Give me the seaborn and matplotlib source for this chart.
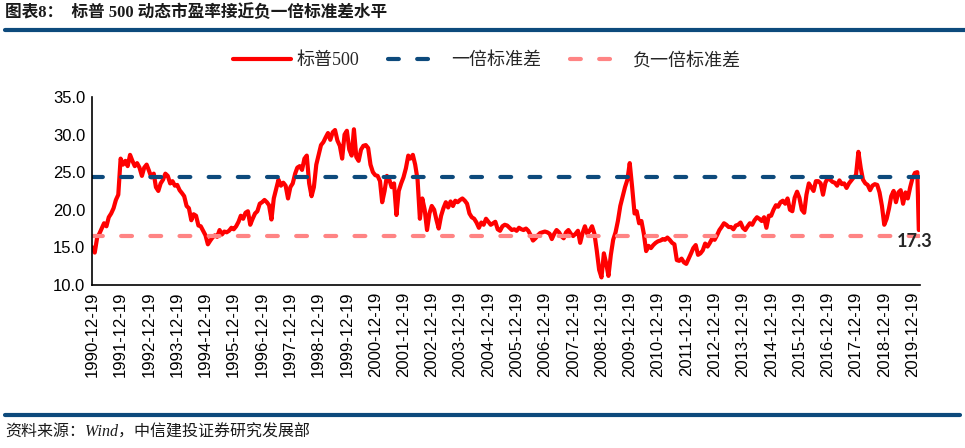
import pandas as pd
import seaborn as sns
import matplotlib.pyplot as plt
from matplotlib.lines import Line2D

# S&P 500 dynamic PE, monthly, starting 1990-12
pe_1990s = [
    15.0,
    14.3, 16.3, 16.8, 17.5, 18.2, 17.8, 19.0, 19.5, 20.2, 21.3, 22.0, 26.8,   # 1991
    26.0, 26.5, 25.8, 27.3, 26.5, 25.8, 26.2, 25.6, 24.5, 25.6, 26.0, 25.2,   # 1992
    24.3, 24.8, 23.0, 22.5, 23.5, 24.0, 24.8, 24.5, 23.5, 23.8, 23.2, 23.3,   # 1993
    22.6, 22.2, 21.8, 20.5, 20.2, 18.6, 19.4, 19.2, 17.9, 17.8, 17.2, 16.6,   # 1994
    15.4, 15.9, 16.3, 16.6, 16.4, 17.3, 16.7, 17.1, 17.0, 17.2, 17.6, 17.4,   # 1995
    17.8, 18.4, 19.2, 18.8, 19.6, 19.8, 18.0, 18.8, 19.5, 19.8, 20.8, 21.0,   # 1996
    21.3, 21.0, 20.6, 18.7, 21.5, 22.8, 24.0, 23.2, 23.6, 23.2, 21.5, 23.0,   # 1997
    23.5, 24.8, 25.6, 25.8, 25.3, 26.8, 27.2, 23.5, 21.8, 23.0, 26.0, 27.3,   # 1998
    28.6, 29.0, 29.6, 30.2, 29.3, 30.3, 30.6, 29.2, 28.5, 26.8, 30.0, 30.5,   # 1999
]
pe_2000s = [
    28.0, 27.2, 30.7, 27.0, 26.5, 28.0, 28.5, 28.6, 28.2, 26.0, 25.0, 24.6,   # 2000
    24.5, 23.8, 21.0, 22.5, 24.5, 24.0, 23.0, 23.5, 19.3, 22.5, 23.5, 24.3,   # 2001
    25.5, 27.2, 26.8, 27.3, 26.0, 24.0, 18.8, 21.5, 20.0, 17.3, 19.5, 20.5,   # 2002
    20.0, 18.6, 17.5, 19.2, 20.2, 21.0, 20.3, 21.1, 20.5, 21.2, 21.0, 21.3,   # 2003
    21.5, 21.2, 20.8, 19.5, 19.0, 18.8, 18.3, 17.6, 18.3, 18.0, 18.8, 18.4,   # 2004
    18.0, 18.2, 18.4, 17.4, 17.2, 17.8, 18.0, 17.9, 17.6, 17.3, 17.4, 17.2,   # 2005
    17.6, 17.4, 17.3, 17.5, 17.2, 16.6, 15.9, 16.2, 16.6, 16.9, 17.0, 17.1,   # 2006
    17.0, 16.8, 16.1, 16.8, 17.3, 17.0, 16.5, 16.2, 17.0, 17.3, 16.8, 16.5,   # 2007
    16.8, 17.2, 15.6, 16.9, 17.8, 16.8, 17.2, 17.8, 16.8, 14.6, 12.0, 11.0,   # 2008
    14.2, 12.8, 11.2, 14.0, 16.0, 17.0, 18.5, 20.5, 21.8, 23.0, 24.0, 26.2,   # 2009
]
pe_2010s = [
    23.0, 19.5, 19.8, 18.2, 18.5, 16.8, 14.5, 15.2, 14.9, 15.3, 15.6, 15.8,   # 2010
    15.9, 16.1, 16.0, 16.3, 16.0, 15.6, 15.4, 13.3, 13.2, 13.5, 13.0, 12.8,   # 2011
    13.5, 14.2, 14.9, 15.3, 14.0, 14.2, 14.6, 15.5, 15.1, 15.6, 16.2, 16.0,   # 2012
    16.6, 17.3, 17.7, 18.2, 18.0, 17.7, 17.7, 17.4, 17.9, 18.0, 18.3, 17.6,   # 2013
    17.3, 17.8, 18.2, 18.0, 18.6, 19.0, 18.8, 18.5, 19.0, 17.6, 19.2, 19.2,   # 2014
    20.0, 20.6, 20.4, 21.0, 21.2, 20.8, 21.5, 20.0, 19.8, 21.6, 22.4, 21.6,   # 2015
    20.0, 19.6, 22.0, 23.5, 23.0, 22.5, 23.8, 23.8, 23.5, 22.0, 23.6, 24.2,   # 2016
    24.0, 23.7, 23.6, 23.2, 23.9, 23.4, 23.5, 22.9, 23.5, 23.9, 24.3, 24.6,   # 2017
    27.7, 25.5, 24.0, 23.5, 23.3, 22.6, 23.2, 23.4, 23.3, 22.3, 20.5, 18.0,   # 2018
    18.8, 20.2, 21.8, 22.5, 21.0, 22.3, 22.6, 20.8, 22.3, 21.5, 23.0, 24.2,   # 2019
]
pe_2020 = [24.9, 25.0]
last_date = '2020-03-09'
last_pe = 17.3

one_std = 24.35
neg_one_std = 16.45
tick_years = list(range(1990, 2020))

monthly = pe_1990s + pe_2000s + pe_2010s + pe_2020
dates = pd.date_range('1990-12-01', periods=len(monthly), freq='MS') + pd.Timedelta(days=18)
df = pd.DataFrame({'date': list(dates) + [pd.Timestamp(last_date)],
                   'pe': monthly + [last_pe]})
df['one_std'] = one_std
df['neg_one_std'] = neg_one_std

sns.set_style('white')
plt.rcParams['font.family'] = ['Liberation Sans', 'Noto Sans CJK SC']

fig = plt.figure(figsize=(9.65, 4.48), dpi=100)
ax = fig.add_axes([0.0957, 0.364, 0.8573, 0.4196])

sns.lineplot(data=df, x='date', y='pe', ax=ax, color='#ff0000', linewidth=3.0,
             label='标普500')
sns.lineplot(data=df, x='date', y='one_std', ax=ax, color='#0d4a7c', linewidth=3,
             label='一倍标准差', dashes=False)
sns.lineplot(data=df, x='date', y='neg_one_std', ax=ax, color='#ff8484', linewidth=3,
             label='负一倍标准差', dashes=False)
for ln in ax.lines[1:3]:
    ln.set_dashes([2.6, 4.4])
    ln.set_dash_capstyle('round')

ax.set_ylim(10, 35)
ax.set_yticks([10, 15, 20, 25, 30, 35])
ax.set_yticklabels([f'{v:.1f}' for v in [10, 15, 20, 25, 30, 35]])
ticks = [pd.Timestamp(f'{y}-12-19') for y in tick_years]
ax.set_xticks(ticks)
ax.set_xticklabels([t.strftime('%Y-%m-%d') for t in ticks], rotation=90)
ax.set_xlim(pd.Timestamp('1990-12-19'), pd.Timestamp('2020-03-20'))
ax.set_xlabel('')
ax.set_ylabel('')
ax.tick_params(axis='both', direction='in', length=5, width=1, labelsize=12,
               colors='black', pad=5)
for s in ['top', 'right']:
    ax.spines[s].set_visible(False)
for s in ['left', 'bottom']:
    ax.spines[s].set_color('black')
    ax.spines[s].set_linewidth(1.2)

ax.annotate(f'{last_pe}', xy=(df['date'].iloc[-1], last_pe), xytext=(-3, -8),
            textcoords='offset points', ha='center', va='center',
            fontsize=13, fontweight='bold', family=['Lato', 'Liberation Sans'])

handles, labels = ax.get_legend_handles_labels()
ax.get_legend().remove()
fig.legend(handles, labels, loc='center', bbox_to_anchor=(0.505, 0.864), ncol=3,
           frameon=False, handlelength=3.2, columnspacing=1.6, handletextpad=0.3,
           prop={'family': ['Liberation Serif', 'Noto Sans CJK SC'], 'size': 13},
           labelcolor='#262626')

fig.text(0.005, 1 - 13 / 448, '图表8：  标普 500 动态市盈率接近负一倍标准差水平',
         fontsize=12, fontweight='bold', va='center', ha='left', color='#1a1a1a',
         family=['Liberation Serif', 'Noto Sans CJK SC'])
fig.add_artist(Line2D([0.005, 1.0], [1 - 30 / 448] * 2, transform=fig.transFigure,
                      color='#0d4a7c', linewidth=3))
fig.add_artist(Line2D([0.005, 0.995], [1 - 415 / 448] * 2, transform=fig.transFigure,
                      color='#0d4a7c', linewidth=3))
fig.text(0.005, 1 - 433 / 448, '资料来源：Wind，中信建投证券研究发展部',
         fontsize=11.5, style='italic', va='center', ha='left', color='#1a1a1a',
         family=['Liberation Serif', 'Noto Sans CJK SC'])

fig.savefig('out.png', dpi=100)
